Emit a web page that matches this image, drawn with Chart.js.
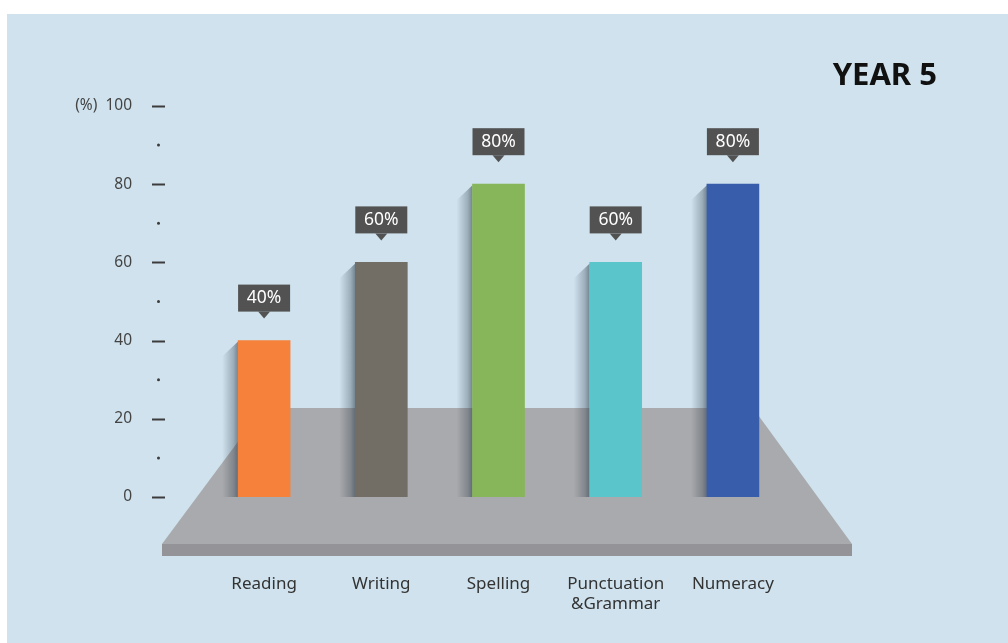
<!DOCTYPE html>
<html>
<head>
<meta charset="utf-8">
<script src="https://cdn.jsdelivr.net/npm/chart.js@4.4.0/dist/chart.umd.min.js"></script>
<style>
  html, body { margin: 0; padding: 0; background: #fff; }
  canvas { display: block; }
</style>
</head>
<body>
<canvas id="graficoYear5" width="1008" height="643"></canvas>
<script>
// Datos del gráfico
const categorias = ['Reading', 'Writing', 'Spelling', ['Punctuation', '&Grammar'], 'Numeracy'];
const porcentajes = [40, 60, 80, 60, 80];
const coloresBarras = ['#f5813a', '#726e66', '#87b65a', '#5bc5cc', '#375dab'];
const ticksY = [0, 20, 40, 60, 80, 100];
const puntosY = [10, 30, 50, 70, 90];
const titulo = 'YEAR 5';

const fuente = '"Noto Sans", "Open Sans", sans-serif';

// Fondo azul con el borde blanco arriba y a la izquierda
const fondoPlugin = {
  id: 'fondo',
  beforeDraw(chart) {
    const ctx = chart.ctx;
    ctx.save();
    ctx.fillStyle = '#ffffff';
    ctx.fillRect(0, 0, chart.width, chart.height);
    ctx.fillStyle = '#cfe2ed';
    ctx.fillRect(7, 14, chart.width - 7, chart.height - 14);
    ctx.restore();
  }
};

// Plataforma gris y sombras de las barras
const plataformaPlugin = {
  id: 'plataforma',
  beforeDatasetsDraw(chart) {
    const { ctx, chartArea } = chart;
    const y = chart.scales.y;
    const base = y.getPixelForValue(0);
    const arriba = base - 89;
    const frente = base + 47;

    ctx.save();
    ctx.fillStyle = '#a9aaad';
    ctx.beginPath();
    ctx.moveTo(chartArea.left + 57.5, arriba);
    ctx.lineTo(chartArea.right - 38.5, arriba);
    ctx.lineTo(chartArea.right + 60.5, frente);
    ctx.lineTo(chartArea.left - 43.5, frente);
    ctx.closePath();
    ctx.fill();

    // canto frontal
    ctx.fillStyle = '#949498';
    ctx.fillRect(chartArea.left - 43.5, frente, chartArea.width + 104, 12);

    // sombras a la izquierda de cada barra
    const meta = chart.getDatasetMeta(0);
    meta.data.forEach(barra => {
      const izq = barra.x - barra.width / 2;
      const ancho = 16;
      const grad = ctx.createLinearGradient(izq - ancho, 0, izq, 0);
      grad.addColorStop(0, 'rgba(40, 55, 70, 0)');
      grad.addColorStop(0.7, 'rgba(40, 55, 70, 0.3)');
      grad.addColorStop(1, 'rgba(40, 55, 70, 0.55)');
      ctx.fillStyle = grad;
      ctx.beginPath();
      ctx.moveTo(izq, barra.y + 1);
      ctx.lineTo(izq - ancho, barra.y + 16);
      ctx.lineTo(izq - ancho, barra.base);
      ctx.lineTo(izq, barra.base);
      ctx.closePath();
      ctx.fill();
    });
    ctx.restore();
  }
};

// Etiquetas con flecha encima de cada barra
const etiquetasPlugin = {
  id: 'etiquetas',
  afterDatasetsDraw(chart) {
    const ctx = chart.ctx;
    const meta = chart.getDatasetMeta(0);
    ctx.save();
    meta.data.forEach((barra, i) => {
      const cx = barra.x;
      const abajo = barra.y - 29;
      const alto = 27;
      ctx.fillStyle = '#525252';
      ctx.fillRect(cx - 26, abajo - alto, 52, alto);
      ctx.beginPath();
      ctx.moveTo(cx - 6, abajo);
      ctx.lineTo(cx + 6, abajo);
      ctx.lineTo(cx, barra.y - 22);
      ctx.closePath();
      ctx.fill();

      ctx.fillStyle = '#ffffff';
      ctx.font = '17.5px ' + fuente;
      ctx.textAlign = 'center';
      ctx.textBaseline = 'middle';
      ctx.fillText(porcentajes[i] + '%', cx, abajo - alto / 2);
    });
    ctx.restore();
  }
};

// Rayas y puntos del eje Y, y el título
const ejePlugin = {
  id: 'eje',
  afterDraw(chart) {
    const ctx = chart.ctx;
    const y = chart.scales.y;
    ctx.save();
    ctx.strokeStyle = '#3c3c3c';
    ctx.lineWidth = 2;
    ticksY.forEach(v => {
      const py = Math.round(y.getPixelForValue(v)) + 0.5;
      ctx.beginPath();
      ctx.moveTo(152, py);
      ctx.lineTo(165, py);
      ctx.stroke();
    });
    ctx.fillStyle = '#3c3c3c';
    puntosY.forEach(v => {
      ctx.beginPath();
      ctx.arc(158.5, y.getPixelForValue(v), 1.5, 0, Math.PI * 2);
      ctx.fill();
    });

    ctx.fillStyle = '#111111';
    ctx.font = 'bold 31px ' + fuente;
    ctx.textAlign = 'right';
    ctx.textBaseline = 'alphabetic';
    ctx.fillText(titulo, 937, 85);
    ctx.restore();
  }
};

const ctx = document.getElementById('graficoYear5').getContext('2d');

new Chart(ctx, {
  type: 'bar',
  data: {
    labels: categorias,
    datasets: [{
      label: 'Year 5',
      data: porcentajes,
      backgroundColor: coloresBarras,
      barThickness: 52,
      borderWidth: 0
    }]
  },
  options: {
    responsive: false,
    animation: false,
    layout: {
      padding: { left: 0, right: 216.5, top: 106, bottom: 0 }
    },
    plugins: {
      legend: { display: false },
      tooltip: { enabled: false }
    },
    scales: {
      x: {
        grid: { display: false, drawTicks: false },
        border: { display: false },
        ticks: {
          color: '#333333',
          font: { family: fuente, size: 17 },
          padding: 77,
          maxRotation: 0
        },
        afterFit: s => { s.height = 146; }
      },
      y: {
        min: 0,
        max: 100,
        afterBuildTicks: s => { s.ticks = ticksY.map(v => ({ value: v })); },
        grid: { display: false, drawTicks: false },
        border: { display: false },
        ticks: {
          color: '#444444',
          font: { family: fuente, size: 15.5 },
          padding: 73.5,
          callback: v => v === 100 ? '(%)  100' : v
        },
        afterFit: s => { s.width = 205.5; }
      }
    }
  },
  plugins: [fondoPlugin, plataformaPlugin, etiquetasPlugin, ejePlugin]
});
</script>
</body>
</html>
